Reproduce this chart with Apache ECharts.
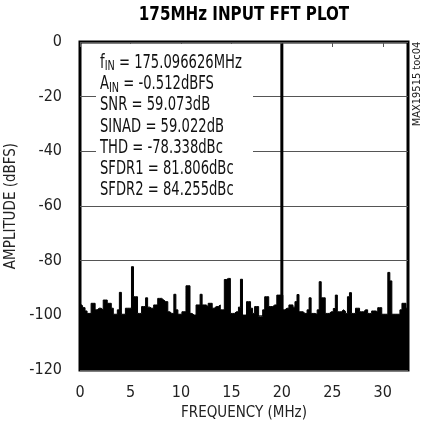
<!DOCTYPE html>
<html>
<head>
<meta charset="utf-8">
<script src="https://cdn.jsdelivr.net/npm/echarts@6/dist/echarts.min.js"></script>
<style>
html,body{margin:0;padding:0;background:#fff;}
#chart{width:424px;height:435px;}
</style>
</head>
<body>
<div id="chart"></div>
<script>
// ---- data ----
const titleText = '175MHz INPUT FFT PLOT';
const xAxisName = 'FREQUENCY (MHz)';
const yAxisName = 'AMPLITUDE (dBFS)';
const sideLabel = 'MAX19515 toc04';
const xTickValues = [0, 5, 10, 15, 20, 25, 30];
const yTickValues = [-120, -100, -80, -60, -40, -20, 0];
const freqStepMHz = 0.2;           // spacing of the noise-floor readings
const noiseFloorDbfs = [
  -96.2, -96.2, -97.2, -98.4, -99.3, -99.3, -95.6, -95.6, -98.0, -97.4,   // 0.0 - 1.8
  -97.4, -98.0, -94.4, -94.4, -95.6, -95.6, -97.4, -99.6, -99.6, -98.0,   // 2.0 - 3.8
  -91.6, -99.6, -99.6, -97.4, -97.4, -97.4, -82.2, -93.2, -93.2, -99.3,   // 4.0 - 5.8
  -99.3, -96.8, -96.8, -93.6, -97.0, -97.4, -97.4, -96.2, -96.2, -93.8,   // 6.0 - 7.8
  -93.8, -94.4, -95.0, -95.0, -98.7, -99.3, -99.3, -92.3, -98.0, -99.6,   // 8.0 - 9.8
  -99.6, -98.7, -98.7, -89.2, -89.2, -99.3, -99.9, -99.9, -96.2, -96.2,   // 10.0 - 11.8
  -92.3, -96.2, -96.2, -96.8, -95.6, -95.6, -97.4, -96.8, -96.8, -96.2,   // 12.0 - 13.8
  -98.0, -98.0, -86.9, -86.5, -86.5, -99.3, -99.3, -98.7, -98.7, -97.0,   // 14.0 - 15.8
  -86.8, -99.9, -99.9, -95.0, -95.0, -97.4, -99.3, -96.8, -96.8, -100.5,  // 16.0 - 17.8
  -100.5, -98.0, -93.2, -93.2, -96.8, -96.8, -96.2, -96.2, -92.6, -92.6,  // 18.0 - 19.8
  -92.6, -98.0, -97.4, -97.4, -96.2, -96.2, -97.0, -95.0, -92.4, -98.7,   // 20.0 - 21.8
  -98.7, -99.3, -99.3, -98.0, -93.6, -99.3, -99.3, -99.6, -98.0, -87.7,   // 22.0 - 23.8
  -93.6, -93.6, -99.3, -99.3, -98.7, -98.7, -97.5, -92.6, -98.7, -98.7,   // 24.0 - 25.8
  -98.0, -98.5, -99.3, -93.2, -91.7, -99.3, -99.3, -97.4, -97.4, -98.7,   // 26.0 - 27.8
  -98.7, -98.0, -98.0, -99.3, -99.3, -98.4, -98.4, -98.7, -97.2, -97.2,   // 28.0 - 29.8
  -99.6, -99.6, -99.6, -84.3, -87.4, -99.6, -99.6, -99.6, -99.6, -98.0,   // 30.0 - 31.8
  -95.6, -95.6, -97.4, -97.4                                              // 32.0 - 32.6
];
const fundamentalMHz = 20.0;
const fundamentalDbfs = -0.512;
const annotationLines = [
  '{n|f}{s|IN}{n| = 175.096626MHz}',
  '{n|A}{s|IN}{n| = -0.512dBFS}',
  '{n|SNR = 59.073dB}',
  '{n|SINAD = 59.022dB}',
  '{n|THD = -78.338dBc}',
  '{n|SFDR1 = 81.806dBc}',
  '{n|SFDR2 = 84.255dBc}'
];

// ---- chart ----
const FONT = '"Liberation Sans Narrow", "Arial Narrow", "DejaVu Sans Condensed", sans-serif';
const chart = echarts.init(document.getElementById('chart'), null, {renderer: 'canvas'});

const noiseData = noiseFloorDbfs.map((v, i) => [+(i * freqStepMHz).toFixed(2), v]);

const option = {
  backgroundColor: '#fff',
  animation: false,
  grid: {
    left: 80, right: 16, top: 42, bottom: 65,
    outerBoundsMode: 'none', containLabel: false,
    show: true, borderColor: '#000', borderWidth: 3, backgroundColor: 'transparent'
  },
  xAxis: {
    type: 'value', min: 0, max: 32.5, interval: 5,
    name: xAxisName, nameLocation: 'middle', nameGap: 34,
    nameTextStyle: {fontFamily: FONT, fontSize: 15, color: '#222'},
    axisLine: {show: false},
    axisTick: {show: true, inside: false, length: 5, customValues: xTickValues,
      lineStyle: {color: '#555', width: 1}},
    axisLabel: {fontFamily: FONT, fontSize: 16, color: '#222', margin: 15,
      customValues: xTickValues},
    splitLine: {show: false}
  },
  yAxis: {
    type: 'value', min: -120, max: 0, interval: 20,
    name: yAxisName, nameLocation: 'middle', nameGap: 53,
    nameTextStyle: {fontFamily: FONT, fontSize: 15, color: '#222'},
    axisLine: {show: false},
    axisTick: {show: false},
    axisLabel: {fontFamily: FONT, fontSize: 16, color: '#222', margin: 18},
    splitLine: {show: true, lineStyle: {color: '#555', width: 1}}
  },
  series: [
    {
      type: 'line', step: 'middle', data: noiseData, symbol: 'none',
      lineStyle: {color: '#000', width: 1},
      areaStyle: {color: '#000', opacity: 1, origin: 'start'},
      z: 2
    },
    {
      type: 'line', data: [[fundamentalMHz, -120], [fundamentalMHz, fundamentalDbfs]],
      symbol: 'none', lineStyle: {color: '#000', width: 3}, z: 3
    }
  ],
  graphic: [
    {
      type: 'text', x: 244, y: 15, z: 10, scaleX: 0.886,
      style: {text: titleText, textAlign: 'center', textVerticalAlign: 'middle',
        font: 'bold 19px ' + FONT, fill: '#000'}
    },
    {
      type: 'rect', z: 1,
      shape: {x: 96, y: 44, width: 157, height: 152},
      style: {fill: '#fff'}
    },
    {
      type: 'text', x: 100, y: 52.5, z: 10, scaleX: 0.77,
      style: {
        text: annotationLines.join('\n'),
        textAlign: 'left', textVerticalAlign: 'top',
        font: '19px ' + FONT, fill: '#111', lineHeight: 21.2,
        rich: {
          n: {fontFamily: FONT, fontSize: 19, lineHeight: 21.2, fill: '#111'},
          s: {fontFamily: FONT, fontSize: 14, lineHeight: 16, verticalAlign: 'bottom', fill: '#111'}
        }
      }
    },
    {
      type: 'text', x: 417, y: 84, rotation: Math.PI / 2, z: 10,
      style: {text: sideLabel, textAlign: 'center', textVerticalAlign: 'middle',
        font: '11px ' + FONT, fill: '#222'}
    }
  ]
};
chart.setOption(option);
</script>
</body>
</html>
